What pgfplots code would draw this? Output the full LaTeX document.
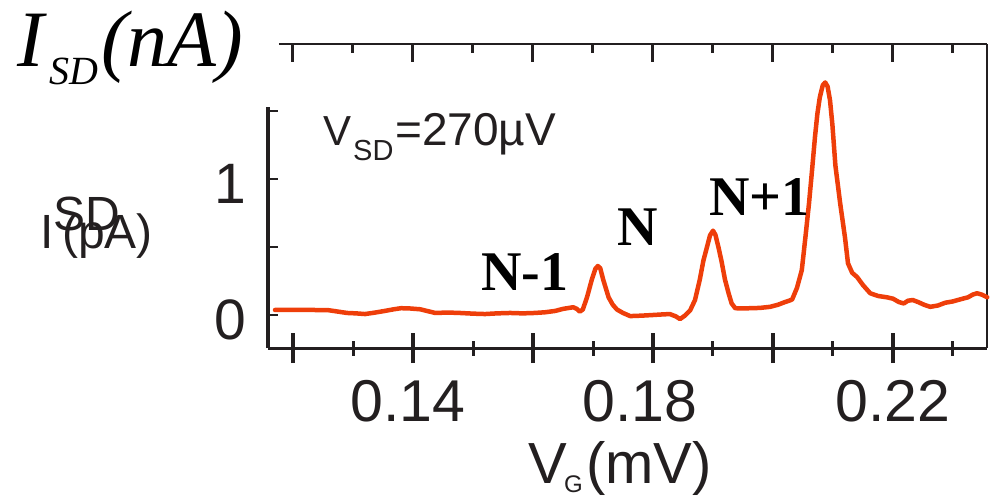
\documentclass[border=0pt]{standalone}
\usepackage{fontspec}
\setmainfont{Liberation Sans}
\newfontfamily\tnr{Liberation Serif}
\usepackage{pgfplots}
\pgfplotsset{compat=1.18}
\definecolor{axc}{RGB}{35,31,32}
\definecolor{curve}{RGB}{238,62,10}
\newcommand{\fs}[1]{\fontsize{#1}{#1}\selectfont}

\pgfplotstableread{
v I
0.1170 0.037
0.1200 0.038
0.1230 0.037
0.1258 0.036
0.1275 0.025
0.1290 0.015
0.1305 0.012
0.1320 0.007
0.1337 0.018
0.1353 0.030
0.1368 0.042
0.1380 0.050
0.1395 0.048
0.1412 0.042
0.1425 0.028
0.1437 0.015
0.1458 0.018
0.1478 0.015
0.1500 0.010
0.1520 0.007
0.1540 0.012
0.1562 0.015
0.1583 0.012
0.1603 0.015
0.1620 0.020
0.1637 0.030
0.1650 0.045
0.1667 0.057
0.1673 0.045
0.1678 0.025
0.1683 0.040
0.1690 0.130
0.1698 0.260
0.1704 0.340
0.1708 0.360
0.1712 0.345
0.1717 0.260
0.1726 0.130
0.1733 0.075
0.1740 0.040
0.1750 0.015
0.1762 -0.008
0.1780 -0.005
0.1800 0.000
0.1815 0.004
0.1828 0.007
0.1838 -0.010
0.1845 -0.030
0.1853 -0.005
0.1862 0.035
0.1870 0.110
0.1878 0.260
0.1884 0.400
0.1890 0.500
0.1895 0.585
0.1900 0.620
0.1904 0.590
0.1909 0.500
0.1914 0.400
0.1920 0.260
0.1926 0.160
0.1931 0.086
0.1937 0.050
0.1950 0.048
0.1962 0.050
0.1978 0.052
0.1995 0.060
0.2008 0.075
0.2020 0.095
0.2027 0.105
0.2032 0.115
0.2040 0.200
0.2048 0.330
0.2054 0.570
0.2060 0.820
0.2065 1.060
0.2070 1.310
0.2074 1.480
0.2078 1.600
0.2083 1.690
0.2087 1.710
0.2091 1.680
0.2095 1.580
0.2099 1.400
0.2104 1.100
0.2112 0.820
0.2120 0.570
0.2125 0.380
0.2132 0.310
0.2140 0.280
0.2150 0.220
0.2162 0.160
0.2175 0.140
0.2190 0.130
0.2200 0.120
0.2210 0.095
0.2218 0.085
0.2225 0.105
0.2233 0.110
0.2242 0.095
0.2252 0.075
0.2262 0.060
0.2275 0.070
0.2287 0.090
0.2300 0.100
0.2312 0.115
0.2325 0.130
0.2333 0.150
0.2340 0.160
0.2348 0.150
0.2357 0.130
}\datatable

\begin{document}
\begin{tikzpicture}[x=1pt,y=1pt]
% left y axis (short spine)
\begin{axis}[at={(0,0)}, anchor=south west, scale only axis,
  width=719pt, height=241pt,
  xmin=0.11583, xmax=0.23567, ymin=-0.24265, ymax=1.52941,
  axis x line=none, axis y line*=left,
  axis line style={line width=3.5pt, color=axc},
  ytick={0,0.5,1,1.5}, yticklabels={0,,1,},
  tick align=inside, major tick length=10pt,
  every major tick/.append style={line width=2.5pt, color=axc},
  yticklabel style={font=\fs{57}, text=axc, anchor=east, inner sep=0pt, xshift=-22pt, yshift=-5pt},
]
\addplot[draw=none] coordinates {(0.12,0)};
\end{axis}
% top and right frame
\begin{axis}[at={(11pt,0)}, anchor=south west, scale only axis,
  width=708pt, height=304pt,
  xmin=0.11767, xmax=0.23567, ymin=-0.24265, ymax=1.99265,
  axis x line*=top, axis y line*=right,
  axis line style={line width=2.5pt, color=axc},
  ytick=\empty,
  xtick={0.12,0.14,0.16,0.18,0.20,0.22}, xticklabels={},
  minor xtick={0.13,0.15,0.17,0.19,0.21,0.23},
  tick align=inside, major tick length=18pt, minor tick length=9pt,
  every major tick/.append style={line width=3pt, color=axc},
  every minor tick/.append style={line width=3pt, color=axc},
]
\addplot[draw=none] coordinates {(0.12,0)};
\end{axis}
% data and bottom axis
\begin{axis}[at={(0,0)}, anchor=south west, scale only axis,
  width=719pt, height=241pt,
  xmin=0.11583, xmax=0.23567, ymin=-0.24265, ymax=1.52941, clip=false,
  axis y line=none, axis x line*=bottom,
  axis line style={line width=3pt, color=axc},
  xtick={0.12,0.14,0.16,0.18,0.20,0.22},
  xticklabels={,{0.14\hspace*{10pt}},,{0.18\hspace*{26pt}},,0.22},
  minor xtick={0.13,0.15,0.17,0.19,0.21,0.23},
  tick align=center, major tick length=30pt, minor tick length=15pt,
  every major tick/.append style={line width=3.5pt, color=axc},
  every minor tick/.append style={line width=3pt, color=axc},
  xticklabel style={font=\fs{59}, text=axc, anchor=north, inner sep=0pt, yshift=-17pt},
]
\addplot[color=curve, line width=4.5pt, line join=round, line cap=round] table[x=v, y=I] {\datatable};
\end{axis}

% title
\node[anchor=base west, inner sep=0pt] at (-251,281) {\tnr\itshape\fs{80}I};
\node[anchor=base west, inner sep=0pt] at (-219,263) {\tnr\itshape\fs{40}SD};
\node[anchor=base west, inner sep=0pt] at (-167,281) {\tnr\itshape\fs{80}(nA)};
% y label
\node[anchor=base west, inner sep=0pt, text=axc] at (-228,100) {\fs{48}I};
\node[anchor=base west, inner sep=0pt, text=axc] at (-206,100) {\fs{48}(pA)};
\node[anchor=base west, inner sep=0pt, text=axc] at (-215,118) {\fs{48}SD};
% VSD
\node[anchor=base west, inner sep=0pt, text=axc] at (55,203) {\fs{42}V};
\node[anchor=base west, inner sep=0pt, text=axc] at (85,188) {\fs{29}SD};
\node[anchor=base west, inner sep=0pt, text=axc] at (127,203) {\fs{46}=270µV};
% x label
\node[anchor=base west, inner sep=0pt, text=axc] at (260,-135) {\fs{58}V};
\node[anchor=base west, inner sep=0pt, text=axc] at (296,-144) {\fs{24}G};
\node[anchor=base west, inner sep=0pt, text=axc] at (318,-135) {\fs{58}(mV)};
% peak labels
\node[anchor=base west, inner sep=0pt] at (213,58) {\tnr\bfseries\fs{56}N-1};
\node[anchor=base west, inner sep=0pt] at (349,103) {\tnr\bfseries\fs{56}N};
\node[anchor=base west, inner sep=0pt] at (441,133) {\tnr\bfseries\fs{56}N+1};

\pgfresetboundingbox
\path (-268pt,-148pt) rectangle (723pt,348pt);
\end{tikzpicture}
\end{document}
